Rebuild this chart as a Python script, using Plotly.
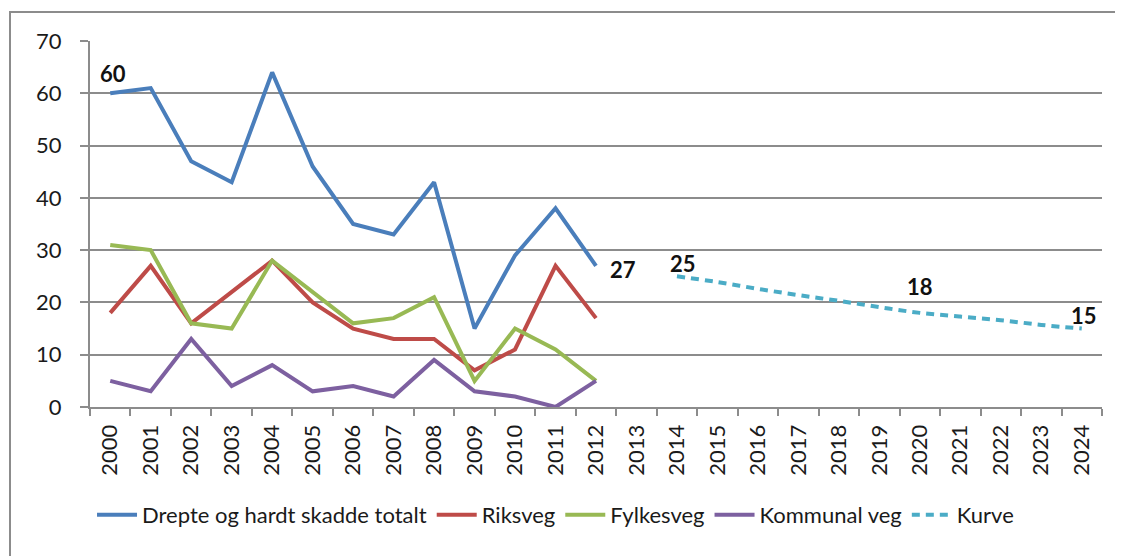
import plotly.graph_objects as go

years = [str(y) for y in range(2000, 2025)]
hist_years = [str(y) for y in range(2000, 2013)]
kurve_years = [str(y) for y in range(2014, 2025)]

totalt = [60, 61, 47, 43, 64, 46, 35, 33, 43, 15, 29, 38, 27]
riksveg = [18, 27, 16, 22, 28, 20, 15, 13, 13, 7, 11, 27, 17]
fylkesveg = [31, 30, 16, 15, 28, 22, 16, 17, 21, 5, 15, 11, 5]
kommunal = [5, 3, 13, 4, 8, 3, 4, 2, 9, 3, 2, 0, 5]
kurve = [25, 23.9, 22.6, 21.4, 20.3, 19.1, 18, 17.3, 16.6, 15.7, 15]

# data labels: (year, value)
label_years = ["2000", "2012", "2014", "2020", "2024"]
label_values = [60, 27, 25, 18, 15]
label_shifts = [(3, 20), (27, -4), (6, 13), (0, 26), (2, 13)]

FONT = "Lato"
GRAY = "#8C8C8C"
TXT = "#1a1a1a"

fig = go.Figure()
fig.add_trace(go.Scatter(x=hist_years, y=totalt, name="Drepte og hardt skadde totalt",
                         mode="lines", line=dict(color="#4A7EBB", width=4)))
fig.add_trace(go.Scatter(x=hist_years, y=riksveg, name="Riksveg",
                         mode="lines", line=dict(color="#BE4B48", width=4)))
fig.add_trace(go.Scatter(x=hist_years, y=fylkesveg, name="Fylkesveg",
                         mode="lines", line=dict(color="#98B954", width=4)))
fig.add_trace(go.Scatter(x=hist_years, y=kommunal, name="Kommunal veg",
                         mode="lines", line=dict(color="#7D60A0", width=4)))
fig.add_trace(go.Scatter(x=kurve_years, y=kurve, name="Kurve", mode="lines",
                         line=dict(color="#4BACC6", width=4, dash="8px,6px", shape="spline")))

for yr, v, (xs, ys) in zip(label_years, label_values, label_shifts):
    fig.add_annotation(x=years.index(yr), y=v, text="<b>" + str(v) + "</b>", showarrow=False,
                       xref="x", yref="y", xshift=xs, yshift=ys,
                       font=dict(family=FONT, size=22, color="#111111"))

fig.add_shape(type="rect", xref="paper", yref="paper",
              x0=(10 - 90) / 1012, x1=1.1, y0=-0.7, y1=(407 - 12) / 366,
              line=dict(color=GRAY, width=2), fillcolor="rgba(0,0,0,0)", layer="below")

fig.update_layout(
    width=1115, height=548,
    margin=dict(l=82, r=21, t=33, b=149),
    paper_bgcolor="white", plot_bgcolor="white",
    font=dict(family=FONT, size=22, color=TXT),
    showlegend=True,
    legend=dict(orientation="h", x=0.46, xanchor="center", y=-0.295, yanchor="middle",
                font=dict(family=FONT, size=22, color=TXT),
                itemwidth=40, tracegroupgap=0),
    xaxis=dict(type="category", categoryorder="array", categoryarray=years,
               range=[-0.5, 24.5], tickson="boundaries", ticks="outside", ticklen=7,
               tickcolor=GRAY, tickwidth=1.6, showline=True, linecolor=GRAY,
               linewidth=2, showgrid=False, tickangle=-90, ticklabelstandoff=7,
               tickfont=dict(family=FONT, size=22, color=TXT)),
    yaxis=dict(range=[0, 70], tickvals=[0, 10, 20, 30, 40, 50, 60, 70],
               ticks="outside", ticklen=8, tickcolor=GRAY, tickwidth=1.6,
               showline=True, linecolor=GRAY, linewidth=2, ticklabelstandoff=14,
               showgrid=True, gridcolor=GRAY, gridwidth=1.6, zeroline=False,
               tickfont=dict(family=FONT, size=22, color=TXT)),
)

fig.write_html("out.html")
